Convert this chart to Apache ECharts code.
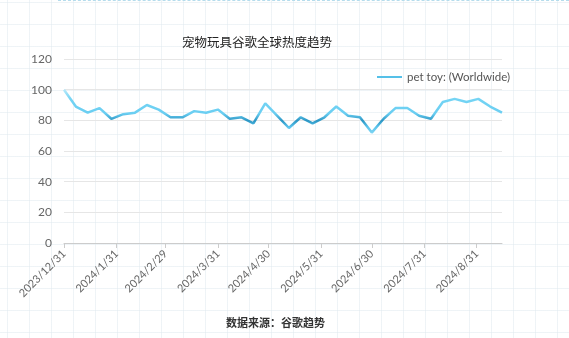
<!DOCTYPE html>
<html>
<head>
<meta charset="utf-8">
<script src="https://cdn.jsdelivr.net/npm/echarts@6/dist/echarts.min.js"></script>
<style>
html,body{margin:0;padding:0;}
body{width:569px;height:338px;overflow:hidden;background-color:#fff;
background-image:linear-gradient(to right, rgba(225,234,240,0.55) 1px, transparent 1px),linear-gradient(to bottom, rgba(225,234,240,0.55) 1px, transparent 1px);
background-size:22px 22px;background-position:7px 2px;}
#topline{position:absolute;left:58px;top:0;width:511px;height:0;border-top:1px dashed #b5dcec;}
#chart{position:absolute;left:0;top:0;width:569px;height:338px;}
</style>
</head>
<body>
<div id="topline"></div>
<div id="chart"></div>
<script>
const chartTitle = '宠物玩具谷歌全球热度趋势';
const sourceText = '数据来源：谷歌趋势';
const seriesName = 'pet toy: (Worldwide)';
const startDate = '2023/12/31';
const endDate = '2024/9/15';
const tickLabels = ['2023/12/31','2024/1/31','2024/2/29','2024/3/31','2024/4/30','2024/5/31','2024/6/30','2024/7/31','2024/8/31'];
// weekly values, one per Sunday starting 2023/12/31
const weeklyValues = [100,89,85,88,81,84,85,90,87,82,82,86,85,87,81,82,78,91,83,75,82,78,82,89,83,82,72,81,88,88,83,81,92,94,92,94,89,85];
const yTicks = [0,20,40,60,80,100,120];

function fmt(d){return d.getFullYear()+'/'+(d.getMonth()+1)+'/'+d.getDate();}
const days = [];
const s = new Date(startDate), e = new Date(endDate);
for (let d = new Date(s); d <= e; d.setDate(d.getDate()+1)) days.push(fmt(d));
const dailyData = days.map((_, i) => (i % 7 === 0 && weeklyValues[i/7] !== undefined) ? weeklyValues[i/7] : null);
const tickSet = new Set(tickLabels);

const chart = echarts.init(document.getElementById('chart'), null, {renderer:'canvas'});
chart.setOption({
  backgroundColor: 'transparent',
  animation: false,
  title: [
    {text: chartTitle, left: 177, top: 31, textStyle:{fontSize:12.5, fontWeight:'normal', color:'#222', fontFamily:'Noto Sans CJK SC'}},
    {text: sourceText, left: 221, top: 312, textStyle:{fontSize:11, fontWeight:'bold', color:'#333', fontFamily:'Noto Sans CJK SC'}}
  ],
  legend: {
    left: 372, top: 66, itemWidth: 25, itemHeight: 14, itemGap: 4,
    textStyle: {fontSize: 11.5, color: '#555', fontFamily: 'Lato'},
    lineStyle: {color: '#55c0e8', width: 2},
    data: [{name: seriesName, icon: 'path://M0,6 L25,6 L25,8 L0,8 Z', itemStyle:{color:'#55c0e8'}}]
  },
  grid: {left: 64, right: 67, top: 59, bottom: 95, containLabel: false},
  xAxis: {
    type: 'category', data: days, boundaryGap: false,
    axisLine: {lineStyle: {color: '#ccc'}},
    axisTick: {interval: (i, v) => tickSet.has(v), lineStyle:{color:'#ccc'}, length: 5},
    axisLabel: {interval: (i, v) => tickSet.has(v), rotate: 45, fontSize: 11, color: '#666', margin: 9, fontFamily:'Lato'},
    splitLine: {show: false}
  },
  yAxis: {
    type: 'value', min: 0, max: 120, interval: 20,
    axisLine: {show: false}, axisTick: {show: false},
    axisLabel: {fontSize: 12, color: '#666', margin: 12, fontFamily:'Lato'},
    splitLine: {lineStyle: {color: '#e6e6e6'}}
  },
  series: [{
    name: seriesName, type: 'line', data: dailyData, connectNulls: true,
    showSymbol: false, symbol: 'none',
    lineStyle: {
      width: 2.5,
      color: new echarts.graphic.LinearGradient(0,0,0,1,[
        {offset:0, color:'#c8eefb'},
        {offset:0.25, color:'#74d4f4'},
        {offset:0.55, color:'#6acef2'},
        {offset:0.7, color:'#2c96c4'},
        {offset:0.83, color:'#5cc4ec'},
        {offset:1, color:'#88daf5'}
      ])
    },
    itemStyle: {color: '#55c0e8'}
  }]
});
</script>
</body>
</html>
